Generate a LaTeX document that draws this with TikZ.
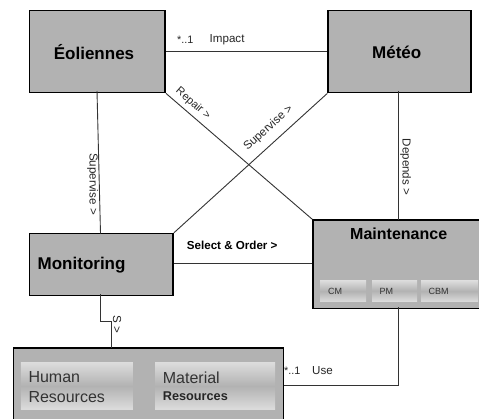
\documentclass[tikz,border=0pt]{standalone}
\usepackage{fontspec}
\setmainfont{Liberation Sans}
\definecolor{boxgray}{HTML}{B2B2B2}
\definecolor{linegray}{HTML}{333333}
\tikzset{
 bigbox/.style={draw=black,line width=1.6pt,fill=boxgray,inner sep=0pt,anchor=north west},
 subbox/.style={inner sep=0pt,anchor=north west,top color=white!55!boxgray,bottom color=white!55!boxgray,middle color=boxgray},
 conn/.style={draw=linegray,line width=0.9pt},
 lbl/.style={font=\fontsize{11.6}{13}\selectfont,text=black!85,inner sep=0pt},
 title/.style={inner sep=0pt,font=\fontsize{17}{20}\selectfont\bfseries},
 small/.style={anchor=west,inner sep=0pt,font=\fontsize{9}{11}\selectfont,text=black!80},
 reg/.style={anchor=west,inner sep=0pt,font=\fontsize{16}{20}\selectfont,text=black!80},
}
\begin{document}
\begin{tikzpicture}[x=1pt,y=-1pt]
\useasboundingbox (0,0) rectangle (479,418);
\fill[white] (0,0) rectangle (479,418);
% boxes (anchored on the outer edge of the border)
\node[bigbox,minimum width=135.6pt,minimum height=82pt] (eol) at (28.8,9.8) {};
\node[bigbox,minimum width=143pt,minimum height=82pt] (met) at (327.3,9.8) {};
\node[bigbox,minimum width=143.5pt,minimum height=62pt] (mon) at (28.8,232.8) {};
\node[bigbox,minimum width=171pt,minimum height=88.5pt] (mnt) at (312.3,219.3) {};
\node[bigbox,minimum width=270pt,minimum height=76pt] (res) at (12.8,347.3) {};
% connectors
\coordinate (c1) at (100,321);
\coordinate (c2) at (111.5,321);
\coordinate (c3) at (398.5,385);
\draw[conn] (eol.east |- 0,51) -- (met.west |- 0,51);
\draw[conn] (97,91) -- (100.5,233.5);
\draw[conn] (eol.south east) -- (mnt.north west);
\draw[conn] (met.south west) -- (mon.north east);
\draw[conn] (398.5,91) -- (398.5,220);
\draw[conn] (mon.east |- 0,263.5) -- (mnt.west |- 0,263.5);
\draw[conn] (100,294) -- (c1) -- (c2) -- (111.5,348);
\draw[conn] (398.5,307) -- (c3) -- (res.east |- c3);
% titles
\node[title] at (94,52) {Éoliennes};
\node[title] at (396.7,52) {Météo};
\node[title,anchor=west] at (37.5,265) {Monitoring};
\node[title,font=\fontsize{16}{19}\selectfont\bfseries] at (398.7,234) {Maintenance};
% sub boxes
\node[subbox,minimum width=46pt,minimum height=21pt] (cm) at (320,280.5) {};
\node[subbox,minimum width=45pt,minimum height=21pt] (pm) at (372,280) {};
\node[subbox,minimum width=57pt,minimum height=21pt] (cbm) at (421,280.5) {};
\node[small] at (328,291.5) {CM};
\node[small] at (379.5,291.5) {PM};
\node[small] at (428.5,291.5) {CBM};
\node[subbox,minimum width=112pt,minimum height=47pt] (hr) at (20.7,362.3) {};
\node[subbox,minimum width=120pt,minimum height=47pt] (mr) at (155,362.3) {};
\node[reg] at (28.3,376.7) {Human};
\node[reg] at (28.3,396.7) {Resources};
\node[reg] at (162.7,378) {Material};
\node[reg,font=\fontsize{12.7}{15}\selectfont\bfseries,text=black!85] at (162.7,395.7) {Resources};
% labels
\node[lbl,anchor=west,font=\fontsize{10.8}{13}\selectfont] at (177,40) {*..1};
\node[lbl,anchor=west] at (209.5,40) {Impact};
\node[lbl,rotate=-41,font=\fontsize{11}{13}\selectfont] at (193,103.5) {Repair >};
\node[lbl,rotate=-90] at (92.5,184) {Supervise >};
\node[lbl,rotate=42] at (268.5,128) {Supervise >};
\node[lbl,rotate=-90] at (405.7,167) {Depends >};
\node[lbl,rotate=-90] at (117,324) {S >};
\node[lbl,font=\fontsize{11.6}{13}\selectfont\bfseries,anchor=west,text=black] at (186.7,245) {Select \& Order >};
\node[lbl,anchor=west,font=\fontsize{10.8}{13}\selectfont] at (284,371) {*..1};
\node[lbl,anchor=west] at (312,371) {Use};
\end{tikzpicture}
\end{document}
